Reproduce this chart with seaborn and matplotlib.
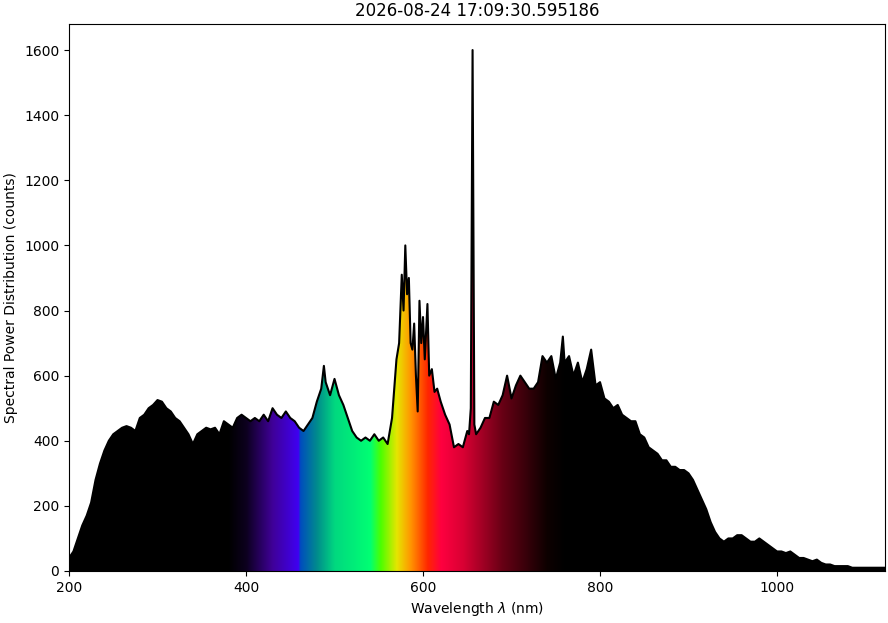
import numpy as np
import matplotlib
matplotlib.use("Agg")
import matplotlib.pyplot as plt
import seaborn as sns
import pandas as pd

wavelength = [200,205,210,215,220,225,230,235,240,245,250,255,260,265,270,275,280,285,290,295,300,305,310,315,320,325,330,335,340,345,350,355,360,365,370,375,380,385,390,395,400,405,410,415,420,425,430,435,440,445,450,455,460,465,470,475,480,485,488,490,495,500,505,510,515,520,525,530,535,540,545,550,555,560,565,570,573,576,578,580,582,584,586,588,590,592,594,596,598,600,602,605,607,610,613,616,620,625,630,635,640,645,650,652,654,656,658,660,665,670,675,680,685,690,695,700,705,710,715,720,725,730,735,740,745,750,755,758,760,765,770,775,780,785,790,795,800,805,810,815,820,825,830,835,840,845,850,855,860,865,870,875,880,885,890,895,900,905,910,915,920,925,930,935,940,945,950,955,960,965,970,975,980,985,990,995,1000,1005,1010,1015,1020,1025,1030,1035,1040,1045,1050,1055,1060,1065,1070,1075,1080,1085,1090,1095,1100,1105,1110,1115,1122]
counts = [40,60,100,140,170,210,280,330,370,400,420,430,440,445,440,430,470,480,500,510,525,520,500,490,470,460,440,420,390,420,430,440,435,440,420,460,450,440,470,480,470,460,470,460,480,460,500,480,470,490,470,460,440,430,450,470,520,560,630,580,540,590,540,510,470,430,410,400,410,400,420,400,410,390,470,650,700,910,800,1000,850,900,700,680,760,600,490,830,700,780,650,820,600,620,550,560,520,480,450,380,390,380,430,420,500,1600,450,420,440,470,470,520,510,540,600,530,570,600,580,560,560,580,660,640,660,590,640,720,640,660,600,640,580,620,680,570,580,530,520,500,510,480,470,460,460,420,410,380,370,360,340,340,320,320,310,310,300,280,250,220,190,150,120,100,90,100,100,110,110,100,90,90,100,90,80,70,60,60,55,60,50,40,40,35,30,35,25,20,20,15,15,15,15,10,10,10,10,10,10,10,10]

# colour anchors (wavelength, r, g, b) approximating the reference rendering
anchors = np.array([
    [200, 0, 0, 0], [380, 0, 0, 0], [400, 0.05, 0.0, 0.12], [430, 0.25, 0.0, 0.6],
    [459, 0.25, 0.0, 0.95], [461, 0.0, 0.3, 0.75], [480, 0.0, 0.55, 0.55],
    [500, 0.0, 0.85, 0.5], [540, 0.0, 1.0, 0.45], [552, 0.3, 1.0, 0.0],
    [570, 0.9, 0.9, 0.0], [585, 1.0, 0.6, 0.0], [605, 1.0, 0.15, 0.0],
    [620, 1.0, 0.0, 0.25], [645, 0.85, 0.0, 0.2], [690, 0.4, 0.0, 0.08],
    [740, 0.05, 0.0, 0.0], [760, 0, 0, 0], [1200, 0, 0, 0]])

df = pd.DataFrame({"wl": wavelength, "c": counts})
fig = plt.figure(figsize=(8.88, 6.23), dpi=100)
ax = fig.add_axes([69/888, 1-571/623, (885-69)/888, (571-24)/623])
grid = np.linspace(200, 1122, 2000)
img = np.stack([np.interp(grid, anchors[:, 0], anchors[:, k]) for k in (1, 2, 3)], axis=-1)[None, :, :]
im = ax.imshow(img, extent=[200, 1122, 0, 1700], aspect="auto", origin="lower")
poly = ax.fill_between(df.wl, df.c, 0, color="none")
im.set_clip_path(poly.get_paths()[0], transform=ax.transData)
sns.lineplot(data=df, x="wl", y="c", color="black", lw=1.5, ax=ax)
ax.set_xlim(200, 1122)
ax.set_ylim(0, 1680)
ax.set_xlabel(r"Wavelength $\lambda$ (nm)")
ax.set_ylabel("Spectral Power Distribution (counts)")
ax.set_title("2026-08-24 17:09:30.595186")
fig.savefig("out.png", dpi=100)
